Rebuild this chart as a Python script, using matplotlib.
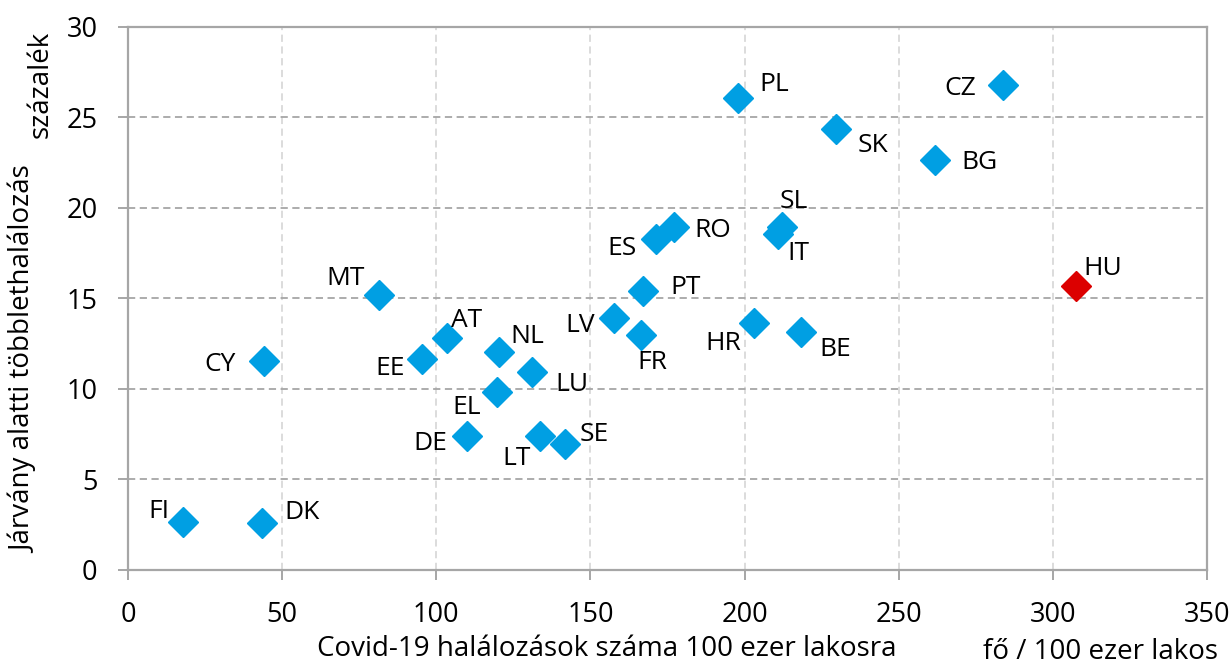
import matplotlib
matplotlib.use("Agg")
import matplotlib.pyplot as plt

# countries, covid deaths per 100k (x), excess mortality % (y)
countries = ["FI", "DK", "CY", "MT", "EE", "AT", "NL", "EL", "DE", "LU",
             "LT", "SE", "LV", "FR", "PT", "ES", "RO", "PL", "HR", "IT",
             "SL", "BE", "SK", "BG", "CZ", "HU"]
covid_deaths = [17.7, 43.6, 44.2, 81.5, 95.5, 103.6, 120.3, 119.8, 109.9, 130.9,
                133.5, 141.6, 157.6, 166.3, 167.1, 171.3, 177.1, 198.0, 203.0, 210.7,
                212.1, 218.2, 229.7, 261.8, 283.9, 307.4]
excess_mortality = [2.63, 2.61, 11.56, 15.2, 11.63, 12.83, 12.04, 9.85, 7.4, 10.92,
                    7.4, 6.96, 13.91, 13.0, 15.42, 18.3, 18.92, 26.08, 13.62, 18.53,
                    18.96, 13.16, 24.33, 22.64, 26.76, 15.7]
highlight = "HU"

x_ticks = [0, 50, 100, 150, 200, 250, 300, 350]
y_ticks = [0, 5, 10, 15, 20, 25, 30]

# label offsets in pixels (dx, dy) from the marker centre
label_offsets = {
    "FI": (-24, 14), "DK": (40, 13), "CY": (-44, -1), "MT": (-34, 19),
    "EE": (-32, -6), "AT": (19, 20), "NL": (28, 18), "EL": (-31, -13),
    "DE": (-36, -5), "LU": (40, -9), "LT": (-23, -20), "SE": (30, 12),
    "LV": (-34, -4), "FR": (12, -25), "PT": (42, 6), "ES": (-34, -7),
    "RO": (39, 0), "PL": (36, 16), "HR": (-31, -17), "IT": (21, -16),
    "SL": (12, 28), "BE": (35, -15), "SK": (37, -13), "BG": (44, 0),
    "CZ": (-43, 0), "HU": (27, 20),
}

BLUE = "#009FE3"
RED = "#DC0000"
plt.rcParams["font.family"] = ["Open Sans", "DejaVu Sans"]
FS_TICK = 19.5
FS_LABEL = 19
FS_TITLE = 20

fig = plt.figure(figsize=(12.32, 6.66), dpi=100)
ax = fig.add_axes([128 / 1232, 1 - 570 / 666, 1079 / 1232, 543.3 / 666])

ax.set_xlim(0, 350)
ax.set_ylim(0, 30)
ax.set_xticks(x_ticks)
ax.set_yticks(y_ticks)

ax.grid(axis="y", color="#A6A6A6", linestyle=(0, (4, 2.5)), linewidth=1.3)
ax.grid(axis="x", color="#D9D9D9", linestyle=(0, (4, 2.5)), linewidth=1.3)
ax.set_axisbelow(True)

for side in ["left", "bottom", "top", "right"]:
    ax.spines[side].set_color("#A6A6A6")
    ax.spines[side].set_linewidth(1.6)

ax.tick_params(axis="both", colors="#A6A6A6", length=7.5, width=1.4,
               labelcolor="black", labelsize=FS_TICK)
ax.tick_params(axis="x", pad=15)
ax.tick_params(axis="y", pad=14.5)

for name, xv, yv in zip(countries, covid_deaths, excess_mortality):
    color = RED if name == highlight else BLUE
    ax.plot(xv, yv, marker="D", markersize=15, color=color, linestyle="none",
            zorder=3)
    dx, dy = label_offsets[name]
    ax.annotate(name, (xv, yv), xytext=(dx, dy), textcoords="offset pixels",
                ha="center", va="center_baseline", fontsize=FS_LABEL,
                color="black", zorder=4)

fig.text(607 / 1232, 1 - 649 / 666, "Covid-19 halálozások száma 100 ezer lakosra",
         ha="center", va="center", fontsize=FS_TITLE)
fig.text(1218 / 1232, 1 - 652 / 666, "fő / 100 ezer lakos",
         ha="right", va="center", fontsize=FS_TITLE)
fig.text(24 / 1232, 1 - 360 / 666, "Járvány alatti többlethalálozás",
         ha="center", va="center", rotation=90, fontsize=FS_TITLE)
fig.text(41 / 1232, 1 - 84 / 666, "százalék",
         ha="center", va="center", rotation=90, fontsize=FS_TITLE)

fig.savefig("out.png", dpi=100)
